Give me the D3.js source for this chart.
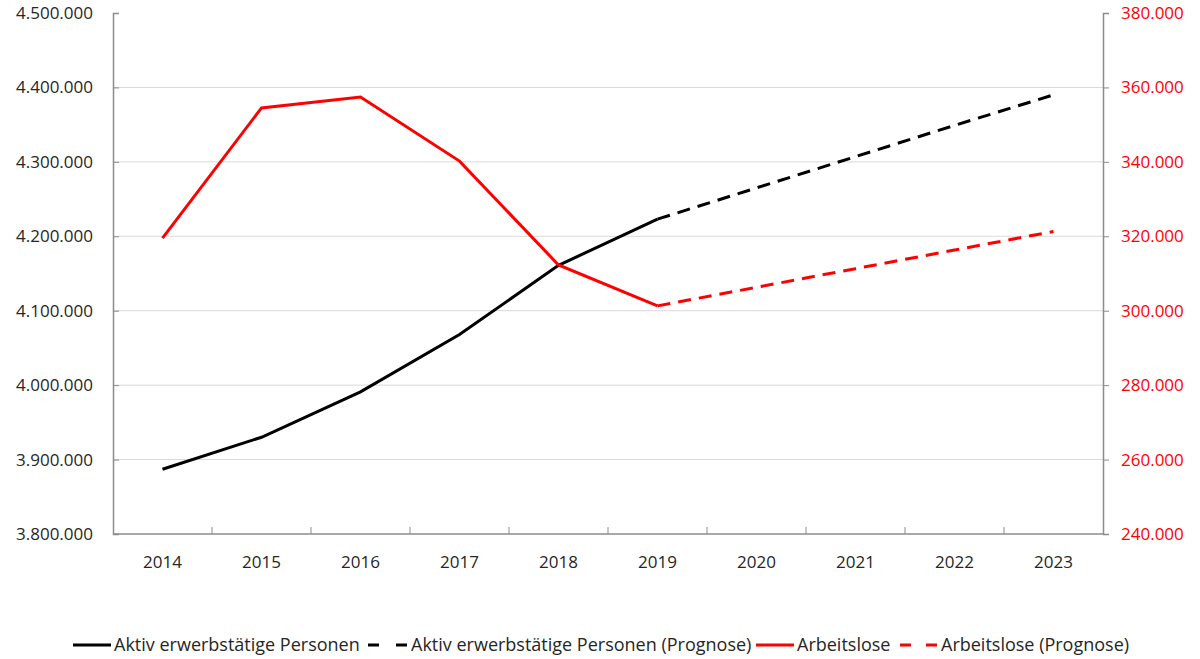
<!DOCTYPE html>
<html><head><meta charset="utf-8">
<script src="https://cdn.jsdelivr.net/npm/d3@7"></script>
<style>body{margin:0;background:#fff;font-family:"Open Sans",Lato,sans-serif;}</style>
</head><body><svg id="c" width="1200" height="659"></svg>
<script>
const years = ["2014","2015","2016","2017","2018","2019","2020","2021","2022","2023"];
const aktiv = [3887000,3930000,3991000,4068000,4161000,4223000,null,null,null,null];
const aktivPrognose = [null,null,null,null,null,4223000,4265000,4307000,4349000,4390000];
const arbeitslose = [319500,354500,357400,340200,312300,301300,null,null,null,null];
const arbeitslosePrognose = [null,null,null,null,null,301300,306300,311300,316300,321300];
const leftTicks = [3800000,3900000,4000000,4100000,4200000,4300000,4400000,4500000];
const rightTicks = [240000,260000,280000,300000,320000,340000,360000,380000];
const legendLabels = ["Aktiv erwerbstätige Personen","Aktiv erwerbstätige Personen (Prognose)","Arbeitslose","Arbeitslose (Prognose)"];

const svg = d3.select("#c");
const L=113, R=1103, T=13, B=534;
const x = d3.scaleBand().domain(years).range([L,R]);
const yL = d3.scaleLinear().domain([3800000,4500000]).range([B,T]);
const yR = d3.scaleLinear().domain([240000,380000]).range([B,T]);
const fmt = v => d3.format(",")(v).replace(/,/g,".");

// grid
svg.append("g").selectAll("line").data(leftTicks.slice(1,-1)).join("line")
  .attr("x1",L).attr("x2",R).attr("y1",d=>yL(d)).attr("y2",d=>yL(d))
  .attr("stroke","#d9d9d9").attr("stroke-width",1);

// left axis
const gl = svg.append("g").attr("transform",`translate(${L},0)`)
  .call(d3.axisLeft(yL).tickValues(leftTicks).tickFormat(fmt).tickSize(-6).tickPadding(20));
gl.select(".domain").attr("stroke","#8c8c8c").attr("stroke-width",1.5);
gl.selectAll(".tick line").attr("stroke","#8c8c8c");
gl.selectAll("text").attr("fill","#262626").style("font-size","17px").style("font-family","'Open Sans',sans-serif");

// right axis
const gr = svg.append("g").attr("transform",`translate(${R},0)`)
  .call(d3.axisRight(yR).tickValues(rightTicks).tickFormat(fmt).tickSize(6).tickPadding(12));
gr.select(".domain").attr("stroke","#8c8c8c").attr("stroke-width",1.5);
gr.selectAll(".tick line").attr("stroke","#8c8c8c");
gr.selectAll("text").attr("fill","#ff0000").style("font-size","17px").style("font-family","'Open Sans',sans-serif");

// x axis
const gx = svg.append("g").attr("transform",`translate(0,${B})`);
gx.append("line").attr("x1",L).attr("x2",R).attr("stroke","#8c8c8c").attr("stroke-width",1.5);
gx.selectAll("line.t").data(years.slice(1)).join("line").attr("class","t")
  .attr("x1",d=>x(d)).attr("x2",d=>x(d)).attr("y1",0).attr("y2",-7).attr("stroke","#8c8c8c");
gx.selectAll("text").data(years).join("text")
  .attr("x",d=>x(d)+x.bandwidth()/2).attr("y",34).attr("text-anchor","middle")
  .attr("fill","#262626").style("font-size","17px").text(d=>d);

function drawLine(data, yScale, color, dash){
  const line = d3.line().defined(d=>d!=null)
    .x((d,i)=>x(years[i])+x.bandwidth()/2).y(d=>yScale(d));
  svg.append("path").datum(data).attr("d",line).attr("fill","none")
    .attr("stroke",color).attr("stroke-width",3).attr("stroke-dasharray",dash||null);
}
drawLine(aktiv,yL,"#000");
drawLine(aktivPrognose,yL,"#000","13,8");
drawLine(arbeitslose,yR,"#ff0000");
drawLine(arbeitslosePrognose,yR,"#ff0000","13,8");

// legend
const leg = [
  {x:73, w:38, c:"#000", d:null, tx:114},
  {x:368, w:39, c:"#000", d:"11,17", tx:411},
  {x:756, w:38, c:"#ff0000", d:null, tx:797},
  {x:900, w:37, c:"#ff0000", d:"11,15", tx:941}
];
const ly = 645;
leg.forEach((o,i)=>{
  svg.append("line").attr("x1",o.x).attr("x2",o.x+o.w).attr("y1",ly).attr("y2",ly)
    .attr("stroke",o.c).attr("stroke-width",3).attr("stroke-dasharray",o.d);
  svg.append("text").attr("x",o.tx).attr("y",ly+6).attr("fill","#262626")
    .style("font-size","18px").text(legendLabels[i]);
});
</script></body></html>
